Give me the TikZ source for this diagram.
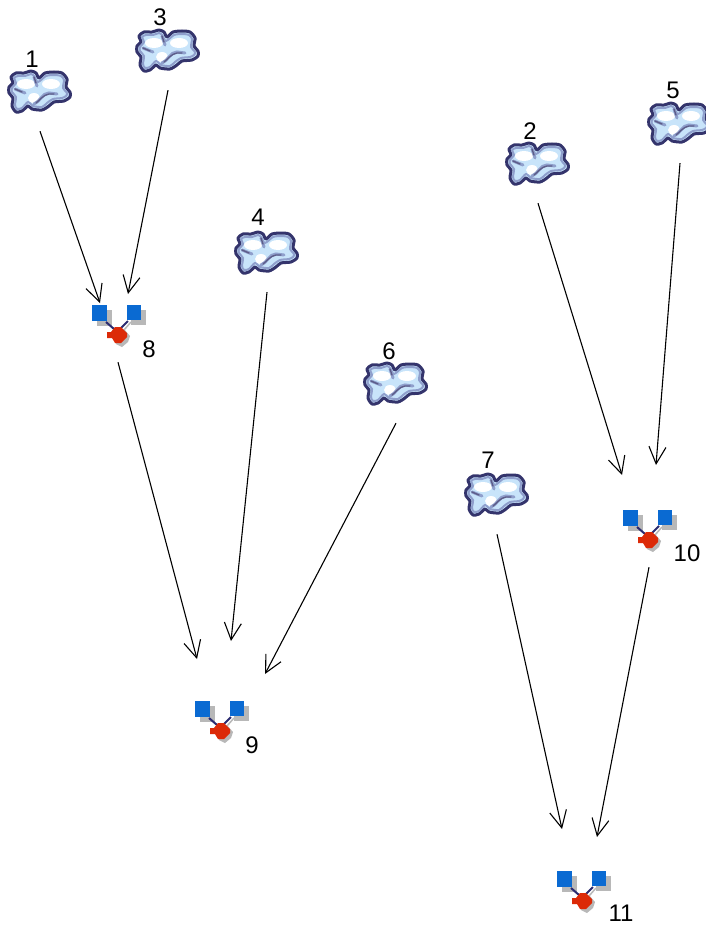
\documentclass[tikz,border=0pt]{standalone}
\usepackage{fontspec}
\setmainfont{Liberation Sans}
\usetikzlibrary{arrows.meta}

\definecolor{cloudedge}{HTML}{34346C}
\definecolor{cloudmid}{HTML}{8F9FCC}
\definecolor{cloudfill}{HTML}{C8E4FA}
\definecolor{gateblue}{HTML}{0A6AD2}
\definecolor{gatered}{HTML}{DC2A08}
\definecolor{gateshadow}{HTML}{B8B8B8}
\definecolor{gatenavy}{HTML}{2B2B70}

\tikzset{
	cloudbox/.style={minimum width=60pt, minimum height=78pt, inner sep=0pt},
	gatebox/.style={minimum width=50pt, minimum height=80pt, inner sep=0pt},
	numlabel/.style={font=\fontsize{24}{26}\selectfont, inner sep=0pt},
	link/.style={-{Straight Barb[length=17pt,width=17pt,line width=1.1pt]}, line width=1.1pt, black},
	cloudicon/.pic={
		\draw[cloudedge, line width=3pt, line join=round, fill=cloudfill] plot[smooth cycle, tension=0.45] coordinates {(-29,-15) (-24,-19) (-16,-19) (-9,-21) (-4,-19) (-1,-14) (5,-19) (14,-20) (22,-19) (27,-13) (26,-5) (30,0) (30,5) (24,9) (14,10) (9,14) (2,18) (-8,17) (-12,14) (-18,19) (-24,20) (-28,14) (-27,6) (-31,1) (-31,-5) (-27,-9)};
		\draw[cloudmid, line width=2pt, line join=round] plot[smooth cycle, tension=0.45] coordinates {(-26,-14) (-22,-16) (-15,-16) (-9,-18) (-6,-16) (-2,-10) (6,-16) (14,-17) (21,-16) (24,-12) (23,-4) (27,1) (26,4) (22,6) (13,7) (7,11) (2,15) (-7,14) (-12,10) (-18,16) (-23,17) (-25,13) (-24,5) (-28,0) (-28,-4) (-24,-9)};
		\fill[white] (-14,-8) ellipse (9pt and 5pt);
		\fill[white] (11,-8) ellipse (9pt and 5pt);
		\fill[white] (-6,6) ellipse (6pt and 5pt);
		\draw[cloudmid, line width=3pt, line cap=round] (-6,-15) -- (-3,-6);
		\draw[cloudedge!80, line width=1.4pt, line cap=round] (-6,-15) -- (-4,-9);
		\draw[cloudmid, line width=3pt, line cap=round] (-25,-3) -- (-15,1);
		\draw[cloudedge!80, line width=1.4pt, line cap=round] (-25,-3) -- (-18,0);
		\draw[cloudmid, line width=3pt, line cap=round] (-6,12) .. controls (0,10) and (2,1) .. (9,1) -- (17,2);
		\draw[cloudedge!80, line width=1.4pt, line cap=round] (-4,11) .. controls (0,8) and (3,3) .. (9,2) -- (14,2);
	},
	gateicon/.pic={
		% Shadows
		\fill[gateshadow] (-21,-12) rectangle (-6,4);
		\fill[gateshadow] (13,-12) rectangle (28,3);
		\fill[gateshadow] (-4,14) -- (6,7) -- (12,14) -- (10,20) -- (4,25) -- (-2,22) -- cycle;

		% Stems
		\draw[gatenavy, line width=2pt] (-12,0) -- (-4,7);
		\draw[gatenavy, line width=2pt] (10,-1) -- (3,6);
		\draw[gateshadow, line width=1.5pt] (13,0) -- (6,8);

		% Squares and the red blob
		\fill[gateblue] (-26,-17) rectangle (-11,-1);
		\fill[gateblue] (9,-17) rectangle (23,-2);
		\fill[gatered] (-11,10) -- (-7,10) -- (-3,5) -- (3,5) -- (9,11) -- (9,15) -- (3,21) -- (-3,21) -- (-6,16) -- (-11,16) -- cycle;
	}
}

\begin{document}
\begin{tikzpicture}[x=1pt, y=-1pt]
	\useasboundingbox (0,0) rectangle (705,928);

	% Draw the clouds
	\node[cloudbox] (cloud1) at (40,92) {};
	\node[cloudbox] (cloud2) at (538,164) {};
	\node[cloudbox] (cloud3) at (168,51) {};
	\node[cloudbox] (cloud4) at (267,253) {};
	\node[cloudbox] (cloud5) at (680,124) {};
	\node[cloudbox] (cloud6) at (396,384) {};
	\node[cloudbox] (cloud7) at (497,495) {};
	\foreach \name in {cloud1,cloud2,cloud3,cloud4,cloud5,cloud6,cloud7}
		\pic at (\name) {cloudicon};

	% Draw the gates
	\node[gatebox] (gate8) at (118,322) {};
	\node[gatebox] (gate9) at (221,718) {};
	\node[gatebox] (gate10) at (649,527) {};
	\node[gatebox] (gate11) at (583,888) {};
	\foreach \name in {gate8,gate9,gate10,gate11}
		\pic at (\name) {gateicon};

	% Numbers
	\node[numlabel] (num1) at (32,59) {1};
	\node[numlabel] (num2) at (530,131) {2};
	\node[numlabel] (num3) at (160,17) {3};
	\node[numlabel] (num4) at (258,217) {4};
	\node[numlabel] (num5) at (673,90) {5};
	\node[numlabel] (num6) at (389,351) {6};
	\node[numlabel] (num7) at (488,460) {7};
	\node[numlabel] (num8) at (149,349) {8};
	\node[numlabel] (num9) at (252,745) {9};
	\node[numlabel] (num10) at (687,553) {10};
	\node[numlabel] (num11) at (621,913) {11};

	% Free ends of the arrows
	\coordinate (in8a) at (100,303);
	\coordinate (in8b) at (128,294);
	\coordinate (in9a) at (197,659);
	\coordinate (in9b) at (231,641);
	\coordinate (in9c) at (265,674);
	\coordinate (in10a) at (622,475);
	\coordinate (in10b) at (656,465);
	\coordinate (in11a) at (562,829);
	\coordinate (in11b) at (597,837);

	% Draw the arrows
	\draw[link] (cloud1.south) -- (in8a);
	\draw[link] (cloud3.south) -- (in8b);
	\draw[link] (gate8.south) -- (in9a);
	\draw[link] (cloud4.south) -- (in9b);
	\draw[link] (cloud6.south) -- (in9c);
	\draw[link] (cloud2.south) -- (in10a);
	\draw[link] (cloud5.south) -- (in10b);
	\draw[link] (cloud7.south) -- (in11a);
	\draw[link] (gate10.south) -- (in11b);
\end{tikzpicture}
\end{document}
